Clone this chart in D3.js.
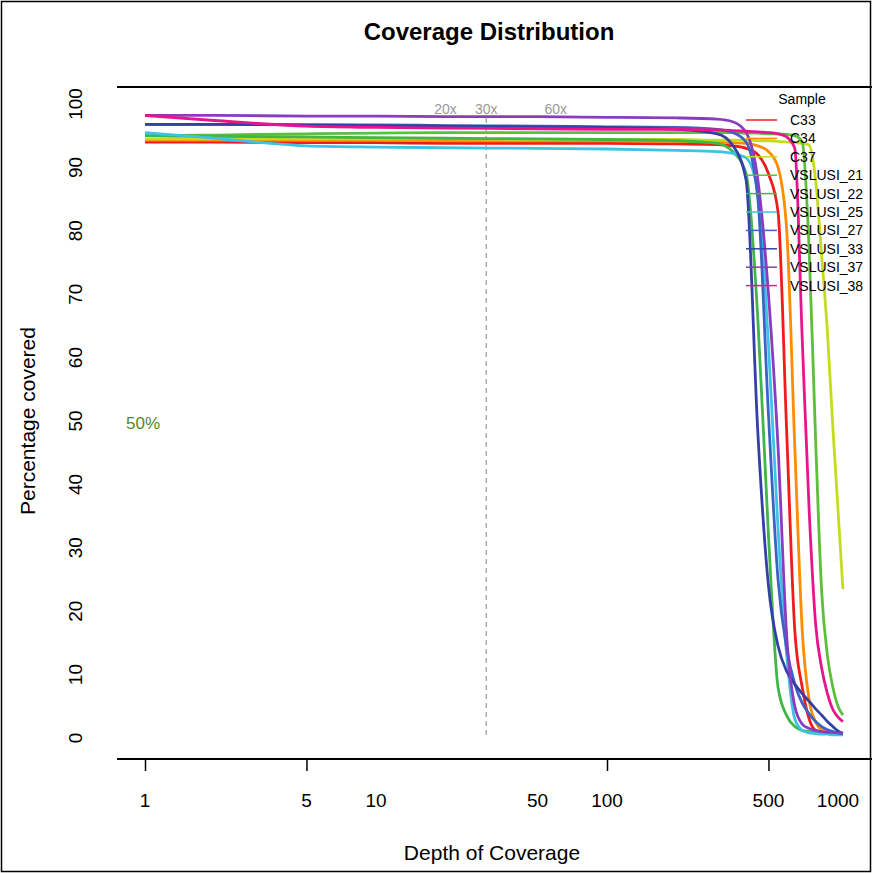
<!DOCTYPE html>
<html>
<head>
<meta charset="utf-8">
<script src="https://cdn.jsdelivr.net/npm/d3@7"></script>
<style>
  body { margin: 0; background: #fff; }
  text { font-family: "Liberation Sans", Arial, Helvetica, sans-serif; }
</style>
</head>
<body>
<div id="chart"></div>
<script>
// depth of coverage grid (x values shared by every sample)
var depths = [1, 2, 5, 10, 20, 50, 100, 200, 300, 350, 400, 450, 500, 550, 600, 650, 700, 750, 800, 850, 900, 950, 1000, 1050];

var samples = ["C33", "C34", "C37", "VSLUSI_21", "VSLUSI_22", "VSLUSI_25", "VSLUSI_27", "VSLUSI_33", "VSLUSI_37", "VSLUSI_38"];
var colors = ["#f01c1c", "#ff8c00", "#c3dc1e", "#5cbf3c", "#3fb54a", "#3ec3e6", "#3a64c4", "#3440a8", "#8a3cc0", "#e8148c"];

// percentage covered for each sample, one value per depth
var c33 = [94.0, 94.0, 93.9, 93.9, 93.8, 93.8, 93.8, 93.7, 93.6, 93.4, 93.0, 92.0, 89.0, 83.0, 48.0, 17.0, 8.0, 3.0, 1.2, 0.9, 0.8, 0.7, 0.6, 0.6];
var c34 = [94.3, 94.3, 94.3, 94.3, 94.2, 94.2, 94.2, 94.1, 94.0, 93.9, 93.8, 93.4, 92.5, 90.0, 80.0, 46.0, 17.0, 6.0, 2.5, 1.3, 1.0, 0.8, 0.7, 0.6];
var c37 = [94.5, 94.5, 94.5, 94.5, 94.5, 94.4, 94.4, 94.4, 94.3, 94.3, 94.3, 94.2, 94.2, 94.1, 94.0, 93.9, 93.8, 93.5, 88.0, 76.0, 64.0, 49.0, 36.0, 23.5];
var vslusi21 = [95.0, 95.1, 95.3, 95.4, 95.5, 95.5, 95.5, 95.5, 95.5, 95.5, 95.4, 95.4, 95.3, 95.3, 95.2, 95.0, 94.0, 77.0, 47.0, 23.0, 13.0, 8.0, 5.0, 3.6];
var vslusi22 = [95.0, 94.9, 94.8, 94.7, 94.6, 94.5, 94.4, 94.2, 93.8, 92.5, 89.0, 66.0, 32.0, 8.0, 3.5, 1.8, 1.2, 1.0, 0.9, 0.8, 0.8, 0.7, 0.7, 0.6];
var vslusi25 = [95.5, 94.6, 93.4, 93.2, 93.1, 93.0, 92.9, 92.7, 92.5, 92.2, 91.5, 86.0, 62.0, 33.0, 13.0, 3.0, 1.2, 0.8, 0.7, 0.6, 0.6, 0.5, 0.5, 0.5];
var vslusi27 = [96.8, 96.8, 96.7, 96.7, 96.6, 96.5, 96.4, 96.3, 96.0, 95.5, 94.0, 85.0, 51.0, 25.0, 14.0, 8.5, 5.5, 3.8, 2.6, 1.8, 1.3, 1.0, 0.8, 0.7];
var vslusi33 = [96.8, 96.8, 96.7, 96.6, 96.5, 96.4, 96.3, 96.0, 95.3, 93.5, 88.0, 48.0, 24.0, 14.5, 10.5, 8.5, 7.0, 5.8, 4.6, 3.6, 2.6, 1.8, 1.1, 0.7];
var vslusi37 = [98.2, 98.2, 98.1, 98.1, 98.0, 98.0, 97.9, 97.8, 97.6, 97.2, 95.5, 88.0, 70.0, 46.0, 16.0, 5.0, 2.2, 1.5, 1.2, 1.0, 0.9, 0.9, 0.8, 0.8];
var vslusi38 = [98.2, 97.4, 96.5, 96.3, 96.2, 96.1, 96.0, 96.0, 95.9, 95.8, 95.7, 95.6, 95.5, 95.3, 94.8, 93.0, 63.0, 36.0, 18.0, 11.0, 7.0, 4.5, 3.3, 2.6];
var seriesValues = [c33, c34, c37, vslusi21, vslusi22, vslusi25, vslusi27, vslusi33, vslusi37, vslusi38];

// axis ticks and threshold marks
var xTickLabels = [1, 5, 10, 50, 100, 500, 1000];
var xTickMarks = [1, 5, 100, 500];
var yTicks = [0, 10, 20, 30, 40, 50, 60, 70, 80, 90, 100];
var thresholds = [20, 30, 60];

var width = 872, height = 873;

var svg = d3.select("#chart")
  .append("svg")
  .attr("width", width)
  .attr("height", height);

// outer frame
svg.append("rect")
  .attr("x", 1.5).attr("y", 1.5)
  .attr("width", width - 3).attr("height", height - 3)
  .attr("fill", "none")
  .attr("stroke", "#000")
  .attr("stroke-width", 1.5);

var x = d3.scaleLog()
  .domain([1, 1000])
  .range([145, 838]);

var y = d3.scaleLinear()
  .domain([0, 100])
  .range([738, 104]);

// title
svg.append("text")
  .attr("x", 489).attr("y", 40)
  .attr("text-anchor", "middle")
  .attr("font-size", 24)
  .attr("font-weight", "bold")
  .text("Coverage Distribution");

// top frame line of the plot
svg.append("line")
  .attr("x1", 117).attr("x2", 872)
  .attr("y1", 87).attr("y2", 87)
  .attr("stroke", "#000").attr("stroke-width", 2);

// x axis
var xAxis = d3.axisBottom(x)
  .tickValues(xTickMarks)
  .tickSize(12)
  .tickFormat("");

var gx = svg.append("g")
  .attr("transform", "translate(0,759)")
  .call(xAxis);
gx.select(".domain").remove();
gx.selectAll(".tick line").attr("stroke", "#000").attr("stroke-width", 1.5);

svg.append("line")
  .attr("x1", 117).attr("x2", 872)
  .attr("y1", 759).attr("y2", 759)
  .attr("stroke", "#000").attr("stroke-width", 2);

svg.selectAll(".xlabel")
  .data(xTickLabels)
  .enter()
  .append("text")
  .attr("class", "xlabel")
  .attr("x", function (d) { return x(d); })
  .attr("y", 807)
  .attr("text-anchor", "middle")
  .attr("font-size", 19)
  .text(function (d) { return d; });

svg.append("text")
  .attr("x", 492).attr("y", 860)
  .attr("text-anchor", "middle")
  .attr("font-size", 21)
  .text("Depth of Coverage");

// y axis labels (rotated, R style)
svg.selectAll(".ylabel")
  .data(yTicks)
  .enter()
  .append("text")
  .attr("class", "ylabel")
  .attr("transform", function (d) { return "translate(82," + y(d) + ") rotate(-90)"; })
  .attr("text-anchor", "middle")
  .attr("font-size", 19)
  .text(function (d) { return d; });

svg.append("text")
  .attr("transform", "translate(35,421) rotate(-90)")
  .attr("text-anchor", "middle")
  .attr("font-size", 21)
  .text("Percentage covered");

// 30x dashed line and threshold labels
svg.append("line")
  .attr("x1", x(30)).attr("x2", x(30))
  .attr("y1", 118).attr("y2", 735)
  .attr("stroke", "#999")
  .attr("stroke-width", 1.2)
  .attr("stroke-dasharray", "5,4");

svg.selectAll(".thr")
  .data(thresholds)
  .enter()
  .append("text")
  .attr("class", "thr")
  .attr("x", function (d) { return x(d); })
  .attr("y", 114)
  .attr("text-anchor", "middle")
  .attr("font-size", 14)
  .attr("fill", "#999")
  .text(function (d) { return d + "x"; });

svg.append("text")
  .attr("x", 143).attr("y", y(50) + 8)
  .attr("text-anchor", "middle")
  .attr("font-size", 17)
  .attr("fill", "#4f8a2a")
  .text("50%");

// curves
var line = d3.line()
  .x(function (d) { return x(d[0]); })
  .y(function (d) { return y(d[1]); })
  .curve(d3.curveMonotoneX);

svg.selectAll(".curve")
  .data(seriesValues)
  .enter()
  .append("path")
  .attr("class", "curve")
  .attr("fill", "none")
  .attr("stroke", function (d, i) { return colors[i]; })
  .attr("stroke-width", 2.8)
  .attr("d", function (vals) {
    return line(vals.map(function (v, j) { return [depths[j], v]; }));
  });

// legend
svg.append("text")
  .attr("x", 802).attr("y", 104)
  .attr("text-anchor", "middle")
  .attr("font-size", 14)
  .text("Sample");

var legend = svg.selectAll(".legend")
  .data(samples)
  .enter()
  .append("g")
  .attr("class", "legend")
  .attr("transform", function (d, i) { return "translate(0," + (120 + i * 18.4) + ")"; });

legend.append("line")
  .attr("x1", 746).attr("x2", 777)
  .attr("stroke", function (d, i) { return colors[i]; })
  .attr("stroke-width", 1.5);

legend.append("text")
  .attr("x", 790)
  .attr("y", 5)
  .attr("font-size", 14)
  .text(function (d) { return d; });
</script>
</body>
</html>
